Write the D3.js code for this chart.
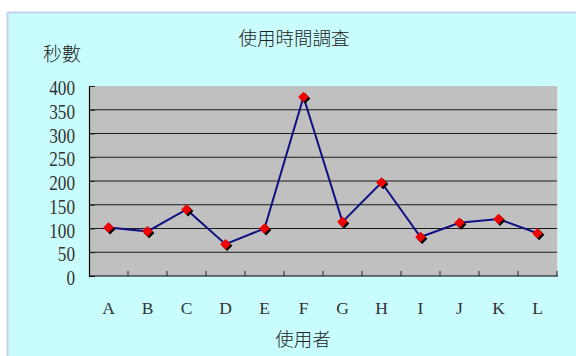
<!DOCTYPE html>
<html>
<head>
<meta charset="utf-8">
<script src="https://cdn.jsdelivr.net/npm/d3@7"></script>
<style>
  html, body { margin: 0; padding: 0; background: #ffffff; }
  svg { display: block; }
</style>
</head>
<body>
<svg id="chart" width="576" height="356"></svg>
<script>
// Usage-time survey: seconds per user
const users = ["A", "B", "C", "D", "E", "F", "G", "H", "I", "J", "K", "L"];
const seconds = [102, 94, 140, 67, 100, 377, 114, 197, 82, 112, 120, 90];
const yTicks = [0, 50, 100, 150, 200, 250, 300, 350, 400];
const chartTitle = "使用時間調査";
const yTitle = "秒數";
const xTitle = "使用者";

const svg = d3.select("#chart");
const plot = { left: 89, right: 557, top: 86, bottom: 276 };
const cjk = "'Noto Sans CJK TC', 'Noto Sans CJK SC', sans-serif";
const serif = "'Liberation Serif', 'DejaVu Serif', serif";

// chart area panel
svg.append("rect")
  .attr("x", 7.5).attr("y", 12.5)
  .attr("width", 620).attr("height", 400)
  .attr("fill", "#c9fdfd")
  .attr("stroke", "#c3d3ec").attr("stroke-width", 2);

const x = d3.scalePoint().domain(users).range([plot.left, plot.right]).padding(0.5);
const band = d3.scaleBand().domain(users).range([plot.left, plot.right]);
const y = d3.scaleLinear().domain([0, 400]).range([plot.bottom, plot.top]);

// plot area
svg.append("rect")
  .attr("x", plot.left).attr("y", plot.top)
  .attr("width", plot.right - plot.left).attr("height", plot.bottom - plot.top)
  .attr("fill", "#c0c0c0");
svg.append("line")
  .attr("x1", plot.right + 0.5).attr("x2", plot.right + 0.5)
  .attr("y1", plot.top).attr("y2", plot.bottom)
  .attr("stroke", "#e6e6e6").attr("stroke-width", 1);

// horizontal gridlines
svg.append("g").selectAll("line")
  .data(yTicks.filter(v => v > 0 && v < 400))
  .join("line")
  .attr("x1", plot.left).attr("x2", plot.right)
  .attr("y1", d => y(d)).attr("y2", d => y(d))
  .attr("stroke", "#1a1a1a").attr("stroke-width", 1.1);

// value axis
const yAxis = svg.append("g")
  .attr("transform", `translate(${plot.left},0)`)
  .call(d3.axisLeft(y).tickValues(yTicks).tickSizeInner(-6).tickSizeOuter(0).tickPadding(0));
yAxis.select(".domain").attr("stroke", "#000").attr("stroke-width", 1.2);
yAxis.selectAll(".tick line").attr("stroke", "#222");
yAxis.selectAll(".tick text")
  .attr("x", null).attr("dy", null)
  .attr("transform", "translate(-14,8.5) scale(0.84,1)")
  .attr("text-anchor", "end")
  .attr("font-family", serif).attr("font-size", 20.5)
  .attr("fill", "#333");

// category axis
const xAxis = svg.append("g")
  .attr("transform", `translate(0,${plot.bottom})`);
xAxis.append("line")
  .attr("x1", plot.left).attr("x2", plot.right + 1)
  .attr("y1", 0).attr("y2", 0)
  .attr("stroke", "#000").attr("stroke-width", 1.2);
xAxis.selectAll("line.tick")
  .data(users)
  .join("line").attr("class", "tick")
  .attr("x1", d => band(d) + band.bandwidth()).attr("x2", d => band(d) + band.bandwidth())
  .attr("y1", 0).attr("y2", -5)
  .attr("stroke", "#222").attr("stroke-width", 1);
xAxis.selectAll("text")
  .data(users)
  .join("text")
  .attr("x", d => x(d)).attr("y", 38)
  .attr("text-anchor", "middle")
  .attr("font-family", serif).attr("font-size", 17.5)
  .attr("fill", "#333")
  .text(d => d);

// series line
const pts = users.map((u, i) => [x(u), y(seconds[i])]);
svg.append("path")
  .attr("d", d3.line()(pts))
  .attr("fill", "none")
  .attr("stroke", "#101080").attr("stroke-width", 2)
  .attr("stroke-linejoin", "miter");

// diamond markers with shadow
const diamond = d3.symbol().type(d3.symbolSquare).size(56)();
const markers = svg.append("g").selectAll("g")
  .data(users.map((u, i) => ({ u, v: seconds[i] })))
  .join("g")
  .attr("transform", d => `translate(${x(d.u)},${y(d.v)})`);
markers.append("path")
  .attr("d", diamond)
  .attr("transform", "translate(1.6,1.6) rotate(45)")
  .attr("fill", "#000");
markers.append("path")
  .attr("d", diamond)
  .attr("transform", "rotate(45)")
  .attr("fill", "#f00000");

// titles
svg.append("text")
  .attr("x", 294).attr("y", 45)
  .attr("text-anchor", "middle")
  .attr("font-family", cjk).attr("font-size", 18.5).attr("font-weight", 300)
  .attr("fill", "#222")
  .text(chartTitle);
svg.append("text")
  .attr("x", 62).attr("y", 61)
  .attr("text-anchor", "middle")
  .attr("font-family", cjk).attr("font-size", 19).attr("font-weight", 300)
  .attr("fill", "#222")
  .text(yTitle);
svg.append("text")
  .attr("x", 303).attr("y", 345.5)
  .attr("text-anchor", "middle")
  .attr("font-family", cjk).attr("font-size", 18.5).attr("font-weight", 300)
  .attr("fill", "#222")
  .text(xTitle);
</script>
</body>
</html>
